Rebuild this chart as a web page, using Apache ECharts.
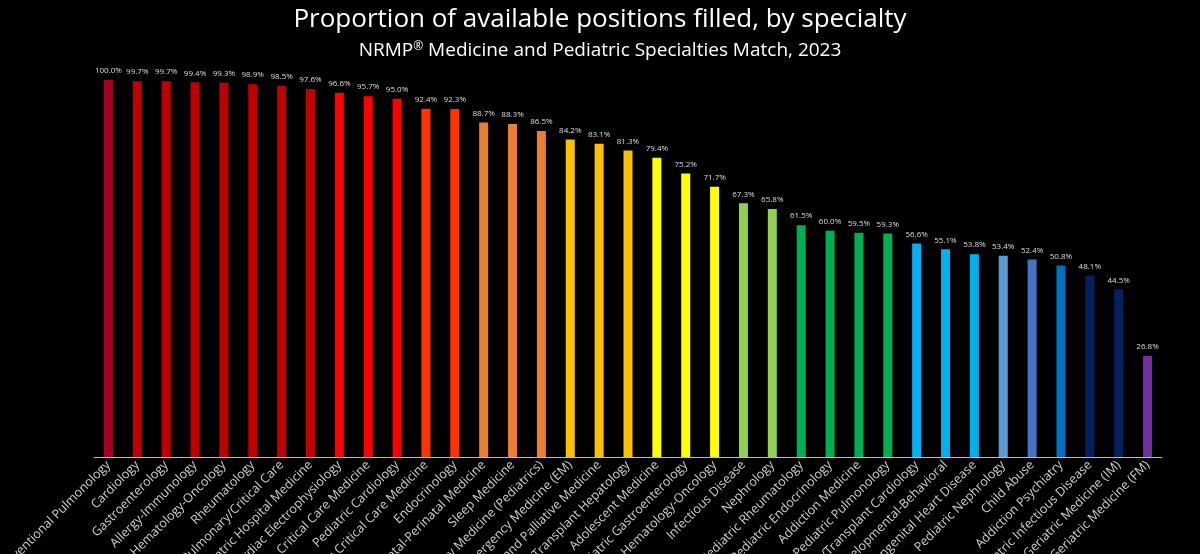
<!DOCTYPE html>
<html><head><meta charset="utf-8">
<script src="https://cdn.jsdelivr.net/npm/echarts@6/dist/echarts.min.js"></script>
<style>html,body{margin:0;background:#000}#c{width:1200px;height:554px}</style>
</head><body><div id="c"></div>
<script>
const categories = ["Interventional Pulmonology","Cardiology","Gastroenterology","Allergy-Immunology","Hematology-Oncology","Rheumatology","Pulmonary/Critical Care","Pediatric Hospital Medicine","Cardiac Electrophysiology","Critical Care Medicine","Pediatric Cardiology","Pediatric Critical Care Medicine","Endocrinology","Neonatal-Perinatal Medicine","Sleep Medicine","Pediatric Emergency Medicine (Pediatrics)","Pediatric Emergency Medicine (EM)","Hospice and Palliative Medicine","Transplant Hepatology","Adolescent Medicine","Pediatric Gastroenterology","Pediatric Hematology-Oncology","Infectious Disease","Nephrology","Pediatric Rheumatology","Pediatric Endocrinology","Addiction Medicine","Pediatric Pulmonology","Pediatric Heart Failure/Transplant Cardiology","Developmental-Behavioral","Adult Congenital Heart Disease","Pediatric Nephrology","Child Abuse","Addiction Psychiatry","Pediatric Infectious Disease","Geriatric Medicine (IM)","Geriatric Medicine (FM)"];
const values = [100.0,99.7,99.7,99.4,99.3,98.9,98.5,97.6,96.6,95.7,95.0,92.4,92.3,88.7,88.3,86.5,84.2,83.1,81.3,79.4,75.2,71.7,67.3,65.8,61.5,60.0,59.5,59.3,56.6,55.1,53.8,53.4,52.4,50.8,48.1,44.5,26.8];
const colors = ["#a50021","#c00000","#c00000","#c00000","#c00000","#c00000","#c00000","#c00000","#ff0000","#ff0000","#ff0000","#ff3300","#ff3300","#ed7d31","#ed7d31","#ed7d31","#ffc000","#ffc000","#ffc000","#ffff00","#ffff00","#ffff00","#92d050","#92d050","#00b050","#00b050","#00b050","#00b050","#00b0f0","#00b0f0","#00b0f0","#5b9bd5","#4472c4","#0070c0","#002060","#002060","#7030a0"];
const chart = echarts.init(document.getElementById('c'));
chart.setOption({
  backgroundColor:'#000',
  title:[{text:'Proportion of available positions filled, by specialty',left:'center',top:2,textStyle:{color:'#fff',fontSize:26,fontWeight:'normal',fontFamily:'Open Sans'}},
         {text:'NRMP{s|®} Medicine and Pediatric Specialties Match, 2023',left:'center',top:36,textStyle:{color:'#fff',fontSize:19,fontWeight:'normal',fontFamily:'Open Sans',rich:{s:{fontSize:12,verticalAlign:'top',color:'#fff',padding:[0,0,8,0]}}}}],
  grid:{left:94,right:38,top:80,bottom:97,containLabel:false,outerBoundsMode:'none'},
  xAxis:{type:'category',data:categories,axisLine:{lineStyle:{color:'#bbb'}},axisTick:{show:false},
    axisLabel:{interval:0,rotate:45,color:'#d0d0d0',fontSize:12.5,fontFamily:'Open Sans',margin:6}},
  yAxis:{type:'value',min:0,max:100,show:false,splitLine:{show:false}},
  series:[{type:'bar',barWidth:9,data:values.map((v,i)=>({value:v,itemStyle:{color:colors[i]}})),
    label:{show:true,position:'top',distance:5,color:'#ddd',fontSize:8,fontFamily:'Open Sans',formatter:p=>p.value.toFixed(1)+'%'}}]
});
</script></body></html>
